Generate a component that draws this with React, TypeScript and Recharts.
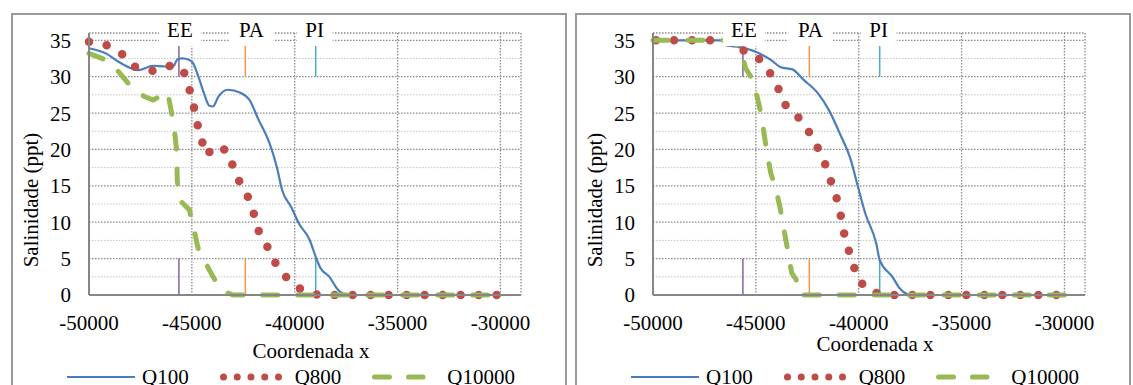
import { LineChart, Line, XAxis, YAxis, CartesianGrid, ReferenceLine, ReferenceDot, Legend } from 'recharts';

type Pair = [number, number];

// eixos
const xTicks = [-50000, -45000, -40000, -35000, -30000];
const yTicks = [0, 5, 10, 15, 20, 25, 30, 35];
const yMinorTicks = [2.5, 7.5, 12.5, 17.5, 22.5, 27.5, 32.5];

// marcos EE / PA / PI
const markerNames = ['EE', 'PA', 'PI'];
const markerX = [-45630, -42400, -38980];
const markerColors = ['#8064A2', '#F79646', '#4BACC6'];

const seriesNames = ['Q100', 'Q800', 'Q10000'];

// painel esquerdo
const leftQ100: Pair[] = [
  [-50000, 33.9], [-49190, 33.2], [-48480, 31.9], [-47600, 30.9], [-46890, 31.5], [-46270, 31.4],
  [-45920, 31.4], [-45690, 32.4], [-45480, 32.5], [-45120, 32.3], [-44950, 31.9], [-44680, 30.0],
  [-44410, 27.7], [-44150, 26.0], [-43980, 25.9], [-43700, 27.3], [-43260, 28.2], [-42640, 27.8],
  [-42200, 26.8], [-41760, 24.1], [-41230, 20.9], [-40870, 17.6], [-40610, 14.4], [-40170, 12.1],
  [-39810, 9.9], [-39280, 7.6], [-38920, 4.8], [-38750, 3.7], [-38310, 2.5], [-37950, 0.9],
  [-37600, 0.15], [-36980, 0], [-30000, 0],
];
const leftQ800: Pair[] = [
  [-50000, 34.8], [-49100, 34.3], [-48340, 33.0], [-47740, 31.3], [-46890, 30.8], [-46150, 31.5],
  [-45440, 31.1], [-45160, 28.7], [-44940, 26.4], [-44770, 23.9], [-44550, 21.6], [-44330, 19.2],
  [-43790, 20.5], [-43230, 19.7], [-42960, 17.3], [-42610, 15.1], [-42180, 13.0], [-41930, 10.6],
  [-41700, 8.3], [-41230, 6.2], [-40870, 4.0], [-40340, 2.2], [-39670, 0.7], [-38870, 0], [-30000, 0],
];
const leftQ10000: Pair[] = [
  [-50000, 33.2], [-49190, 32.3], [-48570, 30.7], [-48040, 28.9], [-47330, 27.3], [-46890, 26.8],
  [-46540, 27.3], [-46180, 27.9], [-46010, 25.4], [-45830, 22.2], [-45740, 19.9], [-45710, 15.8],
  [-45620, 13.1], [-45120, 11.7], [-44860, 8.5], [-44680, 6.2], [-44330, 4.4], [-43970, 2.5],
  [-43530, 0.6], [-43000, 0], [-30000, 0],
];

// painel direito
const rightQ100: Pair[] = [
  [-50000, 35], [-46570, 35], [-46350, 34.3], [-45870, 34.1], [-44980, 33.4], [-44270, 32.3],
  [-43790, 31.3], [-43220, 31.0], [-42690, 29.6], [-41980, 27.7], [-41450, 25.4], [-40920, 22.2],
  [-40390, 18.6], [-40040, 14.9], [-39680, 11.2], [-39150, 7.1], [-38980, 4.8], [-38360, 2.5],
  [-38000, 0.9], [-37560, 0.1], [-36900, 0], [-30000, 0],
];
const rightQ800: Pair[] = [
  [-49850, 35], [-46570, 35], [-45690, 33.7], [-44950, 32.8], [-44420, 31.0], [-43960, 28.9],
  [-43710, 26.5], [-43080, 24.9], [-42540, 23.0], [-42120, 20.9], [-41710, 18.7], [-41450, 16.4],
  [-41150, 14.1], [-40920, 11.7], [-40780, 9.3], [-40570, 6.9], [-40300, 4.5], [-40040, 2.2],
  [-39470, 0.45], [-38660, 0], [-30000, 0],
];
const rightQ10000: Pair[] = [
  [-50000, 35], [-46570, 35], [-46040, 34.6], [-45690, 33.8], [-45510, 31.2], [-45160, 29.6],
  [-44900, 26.8], [-44720, 24.5], [-44580, 21.8], [-44460, 19.5], [-44270, 16.7], [-44010, 14.4],
  [-43830, 12.1], [-43660, 9.4], [-43480, 6.6], [-43390, 5.0], [-43250, 3.0], [-43040, 2.1],
  [-42960, 0.9], [-42870, 0], [-30000, 0],
];

const FONT = '"Liberation Serif", "Times New Roman", serif';
const BLUE = '#4A7EBB';
const RED = '#BE4B48';
const GREEN = '#98B954';

const toPts = (arr: Pair[]) => arr.map(([x, y]) => ({ x, y }));

function LegendBox() {
  const icons = [
    <line key="a" x1={0} y1={7} x2={68} y2={7} stroke={BLUE} strokeWidth={2.2} />,
    <line key="b" x1={3.5} y1={7} x2={59} y2={7} stroke={RED} strokeWidth={7} strokeLinecap="round" strokeDasharray="0 13.75" />,
    <line key="c" x1={2.5} y1={7} x2={51} y2={7} stroke={GREEN} strokeWidth={5} strokeLinecap="round" strokeDasharray="15 19" />,
  ];
  return (
    <div style={{ display: 'flex', alignItems: 'center', paddingLeft: 56, height: 24, fontFamily: FONT, fontSize: 21, lineHeight: '24px', color: '#000' }}>
      {seriesNames.map((name, i) => (
        <div key={name} style={{ display: 'flex', alignItems: 'center', marginRight: 31 }}>
          <svg width={68} height={14} style={{ overflow: 'visible' }}>{icons[i]}</svg>
          <span style={{ marginLeft: 7 }}>{name}</span>
        </div>
      ))}
    </div>
  );
}

interface PanelProps {
  q100: Pair[];
  q800: Pair[];
  q10000: Pair[];
  left: number;
  labelDx: number[];
  xTitleDy: number;
}

function Panel({ q100, q800, q10000, left, labelDx, xTitleDy }: PanelProps) {
  const boxW = [42, 44, 36];
  const xTitle = (p: any) => {
    const vb = p.viewBox || { x: 78, y: 282, width: 432 };
    return (
      <text x={vb.x + vb.width / 2 + 6} y={vb.y + xTitleDy} textAnchor="middle" fill="#000" style={{ fontFamily: FONT, fontSize: 21 }}>
        Coordenada x
      </text>
    );
  };
  const yTitle = (p: any) => {
    const vb = p.viewBox || { x: 0, y: 20, width: 78, height: 262 };
    const cx = vb.x + 20;
    const cy = vb.y + vb.height / 2 + 36;
    return (
      <text x={cx} y={cy} transform={`rotate(-90 ${cx} ${cy})`} textAnchor="middle" dominantBaseline="central" fill="#000" style={{ fontFamily: FONT, fontSize: 21 }}>
        Salinidade (ppt)
      </text>
    );
  };
  return (
    <div style={{ position: 'absolute', left, top: 13, width: 556, height: 372, fontFamily: FONT }}>
      <div style={{ position: 'absolute', left: 0, top: 0, width: 552, height: 400, border: '2px solid #9a9a9a' }} />
      <div style={{ position: 'absolute', left: 0, top: 0 }}>
        <LineChart width={556} height={372} margin={{ top: 20, right: 46, left: 0, bottom: 60 }} style={{ fontFamily: FONT }}>
          <CartesianGrid stroke="#8a8a8a" strokeDasharray="1.5 1.5" strokeWidth={1.3} />
          {yMinorTicks.map((v) => (
            <ReferenceLine key={v} y={v} stroke="#c4c4c4" strokeDasharray="1.5 1.5" strokeWidth={1} />
          ))}
          <XAxis
            type="number"
            dataKey="x"
            domain={[-50000, -29000]}
            ticks={xTicks}
            interval={0}
            height={30}
            tickLine={false}
            tickSize={0}
            tickMargin={20}
            axisLine={{ stroke: '#868686', strokeWidth: 2 }}
            fontSize={21}
            fontFamily={FONT}
            tick={{ fill: '#000', fontSize: 21, fontFamily: FONT }}
            label={{ content: xTitle }}
          />
          <YAxis
            type="number"
            domain={[0, 36]}
            ticks={yTicks}
            interval={0}
            width={78}
            tickLine={false}
            tickSize={0}
            tickMargin={18}
            axisLine={{ stroke: '#868686', strokeWidth: 2 }}
            fontSize={21}
            fontFamily={FONT}
            tick={{ fill: '#000', fontSize: 21, fontFamily: FONT }}
            label={{ content: yTitle }}
          />
          {markerX.map((mx, i) => (
            <ReferenceLine key={`t${i}`} segment={[{ x: mx, y: 30 }, { x: mx, y: 36 }]} stroke={markerColors[i]} strokeWidth={1.5} />
          ))}
          {markerX.map((mx, i) => (
            <ReferenceLine key={`b${i}`} segment={[{ x: mx, y: 0 }, { x: mx, y: 5 }]} stroke={markerColors[i]} strokeWidth={1.5} />
          ))}
          <Line data={toPts(q100)} dataKey="y" name="Q100" type="monotone" stroke={BLUE} strokeWidth={2.2} dot={false} activeDot={false} isAnimationActive={false} />
          <Line data={toPts(q800)} dataKey="y" name="Q800" type="linear" stroke={RED} strokeWidth={8.5} strokeLinecap="round" strokeDasharray="0 18" dot={false} activeDot={false} isAnimationActive={false} />
          <Line data={toPts(q10000)} dataKey="y" name="Q10000" type="linear" stroke={GREEN} strokeWidth={5} strokeLinecap="round" strokeDasharray="15 20" dot={false} activeDot={false} isAnimationActive={false} />
          {markerX.map((mx, i) => (
            <ReferenceDot
              key={`l${i}`}
              x={mx}
              y={36}
              ifOverflow="visible"
              shape={(p: any) => (
                <g>
                  <rect x={p.cx + labelDx[i] - boxW[i] / 2} y={p.cy - 16} width={boxW[i]} height={29} fill="#fff" />
                  <text x={p.cx + labelDx[i]} y={p.cy + 4.4} textAnchor="middle" fill="#000" style={{ fontFamily: FONT, fontSize: 21 }}>
                    {markerNames[i]}
                  </text>
                </g>
              )}
            />
          ))}
          <Legend verticalAlign="middle" align="center" layout="horizontal" wrapperStyle={{ left: 0, top: 352, width: 556 }} content={() => <LegendBox />} />
        </LineChart>
      </div>
    </div>
  );
}

export default function App() {
  return (
    <div style={{ position: 'absolute', left: 0, top: 0, width: 1133, height: 385, overflow: 'hidden', background: '#fff' }}>
      <Panel q100={leftQ100} q800={leftQ800} q10000={leftQ10000} left={11} labelDx={[1, 6, -1]} xTitleDy={63} />
      <Panel q100={rightQ100} q800={rightQ800} q10000={rightQ10000} left={575} labelDx={[1, 1, -1]} xTitleDy={56} />
    </div>
  );
}
